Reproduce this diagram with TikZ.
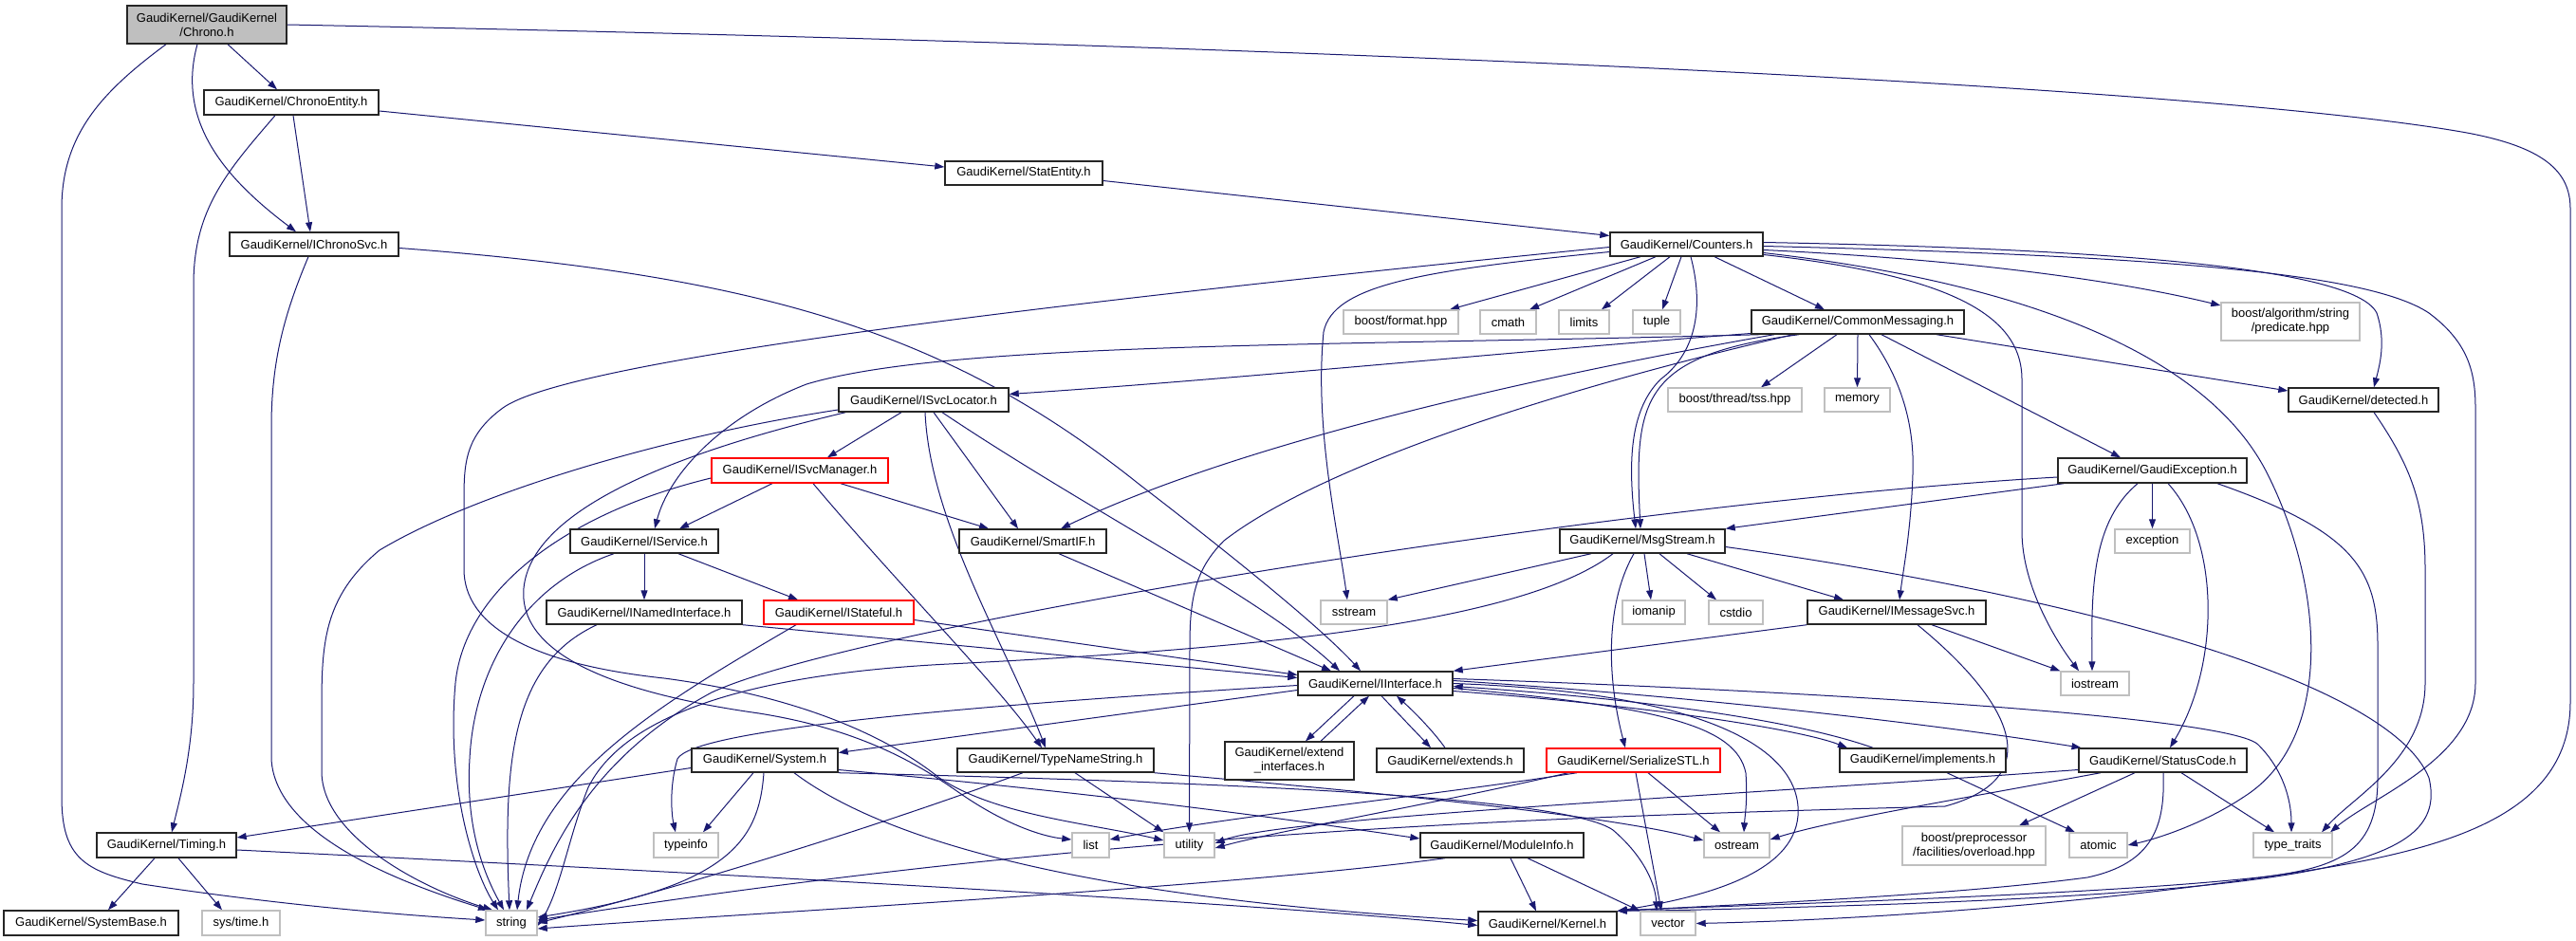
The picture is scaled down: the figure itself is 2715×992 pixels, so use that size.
\documentclass[tikz,border=0pt]{standalone}
\usepackage{fontspec}
\newfontfamily\hf{Liberation Sans}
\usetikzlibrary{arrows.meta}
\definecolor{edgeblue}{HTML}{191970}
\definecolor{gfill}{HTML}{BFBFBF}
\definecolor{gline}{HTML}{BFBFBF}
\pgfdeclarelayer{bgfill}
\pgfdeclarelayer{edges}
\pgfsetlayers{bgfill,edges,main}
\tikzset{
  hb/.style={draw=black!85, line width=1.4pt, fill=white, rectangle, inner sep=0pt, minimum height=25pt, font=\hf\fontsize{13}{15}\selectfont, text=black, align=center},
  ext/.style={hb, draw=gline},
  trunc/.style={hb, draw=red},
  rootn/.style={hb, fill=gfill},
  ed/.style={draw=edgeblue, line width=1pt, -{Triangle[length=10pt,width=7pt]}},
}
\begin{document}
\begin{tikzpicture}[x=1pt,y=-1pt]
\begin{pgfonlayer}{bgfill}\fill[white] (0,0) rectangle (2715,992);\end{pgfonlayer}
\useasboundingbox (0,0) rectangle (2715,992);
% nodes
\node[rootn, minimum width=168pt, minimum height=40pt] (chrono) at (218,26) {GaudiKernel/GaudiKernel\\/Chrono.h};
\node[hb, minimum width=184pt, minimum height=26pt] (centity) at (307,108) {GaudiKernel/ChronoEntity.h};
\node[hb, minimum width=178pt] (ichrono) at (331,257.5) {GaudiKernel/IChronoSvc.h};
\node[hb, minimum width=166pt] (statent) at (1079,182.5) {GaudiKernel/StatEntity.h};
\node[hb, minimum width=161pt] (counters) at (1777.5,257.5) {GaudiKernel/Counters.h};
\node[ext, minimum width=121pt] (bfmt) at (1476.5,339.5) {boost/format.hpp};
\node[ext, minimum width=59pt] (cmath) at (1589.5,339.5) {cmath};
\node[ext, minimum width=53pt] (limits) at (1669.5,339.5) {limits};
\node[ext, minimum width=50pt] (tuple) at (1746,339.5) {tuple};
\node[hb, minimum width=224pt] (cmsg) at (1958,339.5) {GaudiKernel/CommonMessaging.h};
\node[ext, minimum width=146pt, minimum height=40pt] (pred) at (2414,339) {boost/algorithm/string\\/predicate.hpp};
\node[hb, minimum width=179pt] (svcloc) at (973.5,421.5) {GaudiKernel/ISvcLocator.h};
\node[ext, minimum width=141pt] (tss) at (1828.5,421.5) {boost/thread/tss.hpp};
\node[ext, minimum width=69pt] (memory) at (1957.5,421.5) {memory};
\node[hb, minimum width=158pt] (detected) at (2491,421.5) {GaudiKernel/detected.h};
\node[trunc, minimum width=186pt, minimum height=26pt] (svcmgr) at (843,496) {GaudiKernel/ISvcManager.h};
\node[hb, minimum width=199pt, minimum height=26pt] (gexc) at (2268.5,496) {GaudiKernel/GaudiException.h};
\node[hb, minimum width=156pt] (iservice) at (679,570.5) {GaudiKernel/IService.h};
\node[hb, minimum width=155pt] (smartif) at (1088.5,570.5) {GaudiKernel/SmartIF.h};
\node[hb, minimum width=174pt] (msgs) at (1731,570.5) {GaudiKernel/MsgStream.h};
\node[ext, minimum width=79pt] (exception) at (2268.5,570.5) {exception};
\node[hb, minimum width=206pt] (inamed) at (679,645.5) {GaudiKernel/INamedInterface.h};
\node[trunc, minimum width=158pt] (istate) at (884,645.5) {GaudiKernel/IStateful.h};
\node[ext, minimum width=70pt] (sstream) at (1427,645.5) {sstream};
\node[ext, minimum width=66pt] (iomanip) at (1743,645.5) {iomanip};
\node[ext, minimum width=57pt] (cstdio) at (1829.5,645.5) {cstdio};
\node[hb, minimum width=188pt] (imsg) at (1999,645.5) {GaudiKernel/IMessageSvc.h};
\node[hb, minimum width=163pt] (iintf) at (1449.5,720.5) {GaudiKernel/IInterface.h};
\node[ext, minimum width=72pt] (iostream) at (2208,720.5) {iostream};
\node[hb, minimum width=136pt, minimum height=40pt] (extif) at (1359,802) {GaudiKernel/extend\\\_interfaces.h};
\node[hb, minimum width=154pt] (system) at (806,801.5) {GaudiKernel/System.h};
\node[hb, minimum width=207pt] (tns) at (1112.5,801.5) {GaudiKernel/TypeNameString.h};
\node[hb, minimum width=155pt] (extends) at (1528.5,801.5) {GaudiKernel/extends.h};
\node[trunc, minimum width=183pt] (sstl) at (1721.5,801.5) {GaudiKernel/SerializeSTL.h};
\node[hb, minimum width=175pt] (impl) at (2026.5,801.5) {GaudiKernel/implements.h};
\node[hb, minimum width=177pt] (scode) at (2279.5,801.5) {GaudiKernel/StatusCode.h};
\node[hb, minimum width=147pt, minimum height=26pt] (timing) at (175.5,891) {GaudiKernel/Timing.h};
\node[ext, minimum width=68pt, minimum height=26pt] (typeinfo) at (723,891) {typeinfo};
\node[ext, minimum width=39pt, minimum height=26pt] (list) at (1149.5,891) {list};
\node[ext, minimum width=53pt, minimum height=26pt] (utility) at (1253.5,891) {utility};
\node[hb, minimum width=172pt, minimum height=26pt] (modinfo) at (1583,891) {GaudiKernel/ModuleInfo.h};
\node[ext, minimum width=69pt, minimum height=26pt] (ostream) at (1830.5,891) {ostream};
\node[ext, minimum width=151pt, minimum height=41pt] (bpp) at (2080.5,891.5) {boost/preprocessor\\/facilities/overload.hpp};
\node[ext, minimum width=61pt, minimum height=26pt] (atomic) at (2211.5,891) {atomic};
\node[ext, minimum width=83pt, minimum height=26pt] (ttraits) at (2416.5,891) {type\_traits};
\node[hb, minimum width=184pt, minimum height=26pt] (sysbase) at (96,973) {GaudiKernel/SystemBase.h};
\node[ext, minimum width=82pt, minimum height=26pt] (systime) at (254,973) {sys/time.h};
\node[ext, minimum width=54pt, minimum height=26pt] (string) at (539,973) {string};
\node[hb, minimum width=146pt] (kernel) at (1631,973.5) {GaudiKernel/Kernel.h};
\node[ext, minimum width=58pt] (vector) at (1758,973.5) {vector};
% edges
\begin{pgfonlayer}{edges}
% Chrono.h
\draw[ed] ([xshift=22pt]chrono.south) -- ([xshift=-15pt]centity.north);
\draw[ed] ([xshift=-10pt]chrono.south) .. controls (185,130) and (240,190) .. ([xshift=-19pt]ichrono.north);
\draw[ed] ([xshift=-43pt]chrono.south) .. controls (110,95) and (65,140) .. (65,220) -- (65,840) .. controls (65,905) and (90,918) .. (150,932) .. controls (300,955) and (430,965) .. ([yshift=3pt]string.west);
\draw[ed] (chrono.east) .. controls (1500,50) and (2350,95) .. (2600,140) .. controls (2680,155) and (2709,180) .. (2709,220) -- (2709,740) .. controls (2709,850) and (2600,890) .. (2450,915) .. controls (2200,955) and (1950,970) .. (vector.east);
% ChronoEntity.h
\draw[ed] ([xshift=2pt]centity.south) -- ([xshift=-4pt]ichrono.north);
\draw[ed] ([yshift=-9pt]centity.east) -- ([yshift=6.5pt]statent.west);
\draw[ed] ([xshift=-17pt]centity.south) .. controls (240,180) and (204,220) .. (204,300) -- (204,720) .. controls (204,790) and (190,840) .. ([xshift=5.5pt]timing.north);
% IChronoSvc.h
\draw[ed] ([xshift=-6pt]ichrono.south) .. controls (300,330) and (286,380) .. (286,450) -- (286,800) .. controls (290,880) and (420,930) .. ([xshift=-25pt]string.north);
\draw[ed] ([yshift=-4pt]ichrono.east) .. controls (800,290) and (1000,350) .. (1200,510) .. controls (1330,610) and (1400,670) .. ([xshift=-15.5pt]iintf.north);
% StatEntity.h
\draw[ed] ([yshift=-8pt]statent.east) -- ([yshift=9pt]counters.west);
% Counters.h
\draw[ed] ([xshift=-48.5pt]counters.south) -- ([xshift=51.5pt]bfmt.north);
\draw[ed] ([xshift=-32.5pt]counters.south) -- ([xshift=22.5pt]cmath.north);
\draw[ed] ([xshift=-17.5pt]counters.south) -- ([xshift=18.5pt]limits.north);
\draw[ed] ([xshift=-5.5pt]counters.south) -- ([xshift=6pt]tuple.north);
\draw[ed] ([xshift=29.5pt]counters.south) -- ([xshift=-35pt]cmsg.north);
\draw[ed] ([yshift=-8pt]counters.west) .. controls (1500,285) and (1405,300) .. (1395,350) .. controls (1385,450) and (1410,560) .. ([xshift=-7pt]sstream.north);
\draw[ed] ([xshift=4.5pt]counters.south) .. controls (1795,320) and (1790,370) .. (1750,400) .. controls (1720,430) and (1715,480) .. ([xshift=-7pt]msgs.north);
\draw[ed] ([yshift=-6pt]counters.east) .. controls (2100,275) and (2250,300) .. ([yshift=17pt]pred.west);
\draw[ed] ([yshift=2pt]counters.east) .. controls (2200,262) and (2480,280) .. (2505,330) .. controls (2515,360) and (2508,385) .. ([xshift=11pt]detected.north);
\draw[ed] ([yshift=-2pt]counters.east) .. controls (2300,270) and (2500,290) .. (2560,330) .. controls (2600,360) and (2609,390) .. (2609,430) -- (2609,720) .. controls (2609,800) and (2500,840) .. ([xshift=39.5pt]ttraits.north);
\draw[ed] ([yshift=-9pt]counters.east) .. controls (2150,300) and (2330,380) .. (2390,500) .. controls (2450,620) and (2460,780) .. (2365,840) .. controls (2320,870) and (2270,885) .. (atomic.east);
\draw[ed] ([yshift=-11pt]counters.east) .. controls (2050,290) and (2131,330) .. (2131,400) -- (2131,560) .. controls (2131,620) and (2170,680) .. ([xshift=-17pt]iostream.north);
\draw[ed] ([yshift=-3pt]counters.west) .. controls (1100,320) and (600,380) .. (530,430) .. controls (489,460) and (489,490) .. (489,530) -- (489,600) .. controls (489,660) and (560,700) .. (700,715) .. controls (850,735) and (940,780) .. (990,820) .. controls (1050,860) and (1150,868) .. ([yshift=5pt]utility.west);
% CommonMessaging.h
\draw[ed] ([xshift=-22pt]cmsg.south) -- ([xshift=27.5pt]tss.north);
\draw[ed] (cmsg.south) -- (memory.north);
\draw[ed] ([xshift=12pt]cmsg.south) .. controls (2005,400) and (2018,450) .. (2016,500) .. controls (2014,560) and (2006,600) .. ([xshift=3pt]imsg.north);
\draw[ed] ([xshift=25pt]cmsg.south) -- ([xshift=-33.5pt]gexc.north);
\draw[ed] ([xshift=83pt]cmsg.south) -- ([yshift=9.5pt]detected.west);
\draw[ed] ([xshift=-62pt]cmsg.south) .. controls (1730,375) and (1722,420) .. ([xshift=-2pt]msgs.north);
\draw[ed] ([yshift=-12pt]cmsg.west) .. controls (1600,370) and (1300,400) .. ([yshift=6pt]svcloc.east);
\draw[ed] ([xshift=10pt]cmsg.south west) .. controls (1400,365) and (1000,360) .. (850,405) .. controls (760,440) and (705,500) .. ([xshift=11pt]iservice.north);
\draw[ed] ([xshift=-88pt]cmsg.south) .. controls (1600,400) and (1300,470) .. ([xshift=29.5pt]smartif.north);
\draw[ed] ([xshift=-68pt]cmsg.south) .. controls (1600,420) and (1380,500) .. (1290,570) .. controls (1260,600) and (1254,630) .. (1254,680) -- (utility.north);
% ISvcLocator.h
\draw[ed] ([xshift=-23.5pt]svcloc.south) -- ([xshift=29pt]svcmgr.north);
\draw[ed] ([xshift=1.5pt]svcloc.south) .. controls (980,550) and (1060,680) .. ([xshift=-10.5pt]tns.north);
\draw[ed] ([xshift=10.5pt]svcloc.south) -- ([xshift=-15.5pt]smartif.north);
\draw[ed] ([xshift=19.5pt]svcloc.south) .. controls (1150,540) and (1330,630) .. ([xshift=-37.5pt]iintf.north);
\draw[ed] ([yshift=-10.5pt]svcloc.west) .. controls (700,460) and (500,520) .. (400,580) .. controls (340,630) and (339,680) .. (339,750) -- (339,813) .. controls (339,880) and (440,935) .. ([xshift=-20pt]string.north);
\draw[ed] ([xshift=8pt]svcloc.south west) .. controls (700,480) and (560,540) .. (552,620) .. controls (545,700) and (680,735) .. (800,752) .. controls (900,768) and (960,800) .. (1010,835) .. controls (1060,870) and (1100,882) .. ([yshift=6pt]list.west);
% ISvcManager.h
\draw[ed] ([xshift=-29pt]svcmgr.south) -- ([xshift=37pt]iservice.north);
\draw[ed] ([xshift=43pt]svcmgr.south) -- ([xshift=-46.5pt]smartif.north);
\draw[ed] ([xshift=14pt]svcmgr.south) .. controls (950,620) and (1050,720) .. ([xshift=-14.5pt]tns.north);
\draw[ed] ([yshift=-8pt]svcmgr.west) .. controls (600,540) and (490,620) .. (480,720) .. controls (470,830) and (500,920) .. ([xshift=-14pt]string.north);
% IService.h
\draw[ed] (iservice.south) -- (inamed.north);
\draw[ed] ([xshift=36pt]iservice.south) -- ([xshift=-43pt]istate.north);
\draw[ed] ([xshift=-32pt]iservice.south) .. controls (555,615) and (500,700) .. (495,800) .. controls (490,880) and (515,930) .. ([xshift=-8pt]string.north);
% INamedInterface.h, IStateful.h, SmartIF.h
\draw[ed] (inamed.south east) -- ([yshift=6pt]iintf.west);
\draw[ed] ([xshift=-50pt]inamed.south) .. controls (540,700) and (530,800) .. ([xshift=-2pt]string.north);
\draw[ed] ([yshift=-8pt]istate.east) -- ([yshift=9pt]iintf.west);
\draw[ed] ([xshift=-45pt]istate.south) .. controls (700,740) and (560,820) .. ([xshift=6pt]string.north);
\draw[ed] ([xshift=27.5pt]smartif.south) -- ([xshift=-46.5pt]iintf.north);
% IInterface.h
\draw[ed] ([xshift=-22.5pt]iintf.south) -- ([xshift=17pt]extif.north);
\draw[ed] ([xshift=33pt]extif.north) -- ([xshift=-6.5pt]iintf.south);
\draw[ed] ([xshift=6.5pt]iintf.south) -- ([xshift=-20.5pt]extends.north);
\draw[ed] ([xshift=-5.5pt]extends.north) .. controls (1510,770) and (1490,750) .. ([xshift=22.5pt]iintf.south);
\draw[ed] ([yshift=-8pt]iintf.east) .. controls (1750,745) and (1900,770) .. ([xshift=-79.5pt]impl.north);
\draw[ed] ([xshift=-52.5pt]impl.north) .. controls (1900,762) and (1750,738) .. ([yshift=-3pt]iintf.east);
\draw[ed] ([yshift=3pt]iintf.east) .. controls (1800,735) and (2050,765) .. ([xshift=-86pt]scode.north);
\draw[ed] ([yshift=5pt]iintf.east) .. controls (1900,728) and (2350,755) .. (2380,785) .. controls (2410,815) and (2415,850) .. ([xshift=-1.5pt]ttraits.north);
\draw[ed] ([yshift=-5pt]iintf.east) .. controls (1750,745) and (1830,765) .. (1840,815) .. controls (1842,845) and (1839,860) .. ([xshift=7.5pt]ostream.north);
\draw[ed] (iintf.east) .. controls (1800,730) and (1900,790) .. (1895,860) .. controls (1890,920) and (1800,945) .. (kernel.north east);
\draw[ed] ([yshift=-7pt]iintf.west) -- ([yshift=8pt]system.east);
\draw[ed] ([yshift=-2pt]iintf.west) .. controls (1000,745) and (730,770) .. (714,800) .. controls (705,830) and (708,860) .. ([xshift=-11pt]typeinfo.north);
% MsgStream.h
\draw[ed] ([xshift=-54pt]msgs.south) -- (sstream.north east);
\draw[ed] ([xshift=-31pt]msgs.south) .. controls (1600,660) and (1300,685) .. (1000,700) .. controls (800,710) and (660,750) .. (620,830) .. controls (600,880) and (590,940) .. ([yshift=-3pt]string.east);
\draw[ed] ([xshift=-9pt]msgs.south) .. controls (1690,640) and (1695,720) .. ([xshift=-8.5pt]sstl.north);
\draw[ed] ([xshift=2pt]msgs.south) -- ([xshift=-3pt]iomanip.north);
\draw[ed] ([xshift=18pt]msgs.south) -- ([xshift=-20.5pt]cstdio.north);
\draw[ed] ([xshift=47pt]msgs.south) -- ([xshift=-56pt]imsg.north);
\draw[ed] ([yshift=-6pt]msgs.east) .. controls (2200,630) and (2520,720) .. (2560,820) .. controls (2580,905) and (2470,935) .. (2000,953) .. controls (1850,958) and (1760,960) .. (kernel.north east);
% GaudiException.h
\draw[ed] (gexc.south) -- (exception.north);
\draw[ed] ([xshift=-15.5pt]gexc.south) .. controls (2205,550) and (2204,620) .. ([xshift=-3pt]iostream.north);
\draw[ed] ([xshift=16.5pt]gexc.south) .. controls (2340,570) and (2340,700) .. ([xshift=7.5pt]scode.north);
\draw[ed] ([xshift=68.5pt]gexc.south) .. controls (2480,560) and (2506,600) .. (2506,680) -- (2506,820) .. controls (2506,895) and (2470,915) .. (2380,925) .. controls (2200,945) and (1800,955) .. (kernel.north east);
\draw[ed] ([xshift=7pt]gexc.south west) -- (msgs.north east);
\draw[ed] ([yshift=-7pt]gexc.west) .. controls (1700,530) and (900,660) .. (750,730) .. controls (620,800) and (580,900) .. ([xshift=16pt]string.north);
% StatusCode.h
\draw[ed] ([xshift=-29.5pt]scode.south) -- ([xshift=47.5pt]bpp.north);
\draw[ed] ([xshift=19.5pt]scode.south) -- ([xshift=-19.5pt]ttraits.north);
\draw[ed] ([xshift=0.5pt]scode.south) .. controls (2282,870) and (2270,910) .. (2200,925) .. controls (2050,945) and (1800,955) .. (kernel.north east);
\draw[ed] ([xshift=-65.5pt]scode.south) .. controls (2050,845) and (1930,865) .. ([yshift=6pt]ostream.east);
\draw[ed] ([yshift=-10pt]scode.west) .. controls (1800,840) and (1350,862) .. ([yshift=2pt]utility.east);
% IMessageSvc.h
\draw[ed] (imsg.south west) -- (iintf.north east);
\draw[ed] ([xshift=37pt]imsg.south) -- (iostream.north west);
\draw[ed] ([xshift=22pt]imsg.south) .. controls (2120,740) and (2160,820) .. (2050,850) .. controls (1700,860) and (1200,870) .. ([yshift=3pt]string.east);
% TypeNameString.h
\draw[ed] ([xshift=-34.5pt]tns.south) .. controls (900,880) and (700,940) .. (string.east);
\draw[ed] ([xshift=20.5pt]tns.south) -- (utility.north west);
\draw[ed] (tns.south east) .. controls (1450,835) and (1700,860) .. ([yshift=5pt]ostream.west);
% System.h
\draw[ed] ([xshift=-12pt]system.south) -- ([xshift=18pt]typeinfo.north);
\draw[ed] ([xshift=-1pt]system.south) .. controls (800,885) and (770,935) .. ([yshift=6pt]string.east);
\draw[ed] ([yshift=-8pt]system.west) -- ([yshift=8pt]timing.east);
\draw[ed] ([xshift=31pt]system.south) .. controls (950,900) and (1200,950) .. ([yshift=3pt]kernel.west);
\draw[ed] ([yshift=-10pt]system.east) .. controls (1200,840) and (1400,870) .. ([yshift=7pt]modinfo.west);
\draw[ed] (system.south east) .. controls (1300,825) and (1650,840) .. (1700,875) .. controls (1735,905) and (1745,935) .. ([xshift=-12pt]vector.north);
% Timing.h
\draw[ed] ([xshift=-12.5pt]timing.south) -- ([xshift=18pt]sysbase.north);
\draw[ed] ([xshift=12.5pt]timing.south) -- ([xshift=-20pt]systime.north);
\draw[ed] ([yshift=-5pt]timing.east) .. controls (700,918) and (1300,950) .. ([yshift=-2pt]kernel.west);
% ModuleInfo.h
\draw[ed] ([xshift=-60pt]modinfo.south) .. controls (1300,935) and (800,962) .. ([yshift=-6pt]string.east);
\draw[ed] ([xshift=9pt]modinfo.south) -- ([xshift=-12pt]kernel.north);
\draw[ed] ([xshift=27pt]modinfo.south) -- (vector.north west);
% SerializeSTL.h
\draw[ed] ([xshift=-59.5pt]sstl.south) .. controls (1500,840) and (1300,860) .. ([yshift=6pt]list.east);
\draw[ed] ([xshift=-68.5pt]sstl.south) .. controls (1500,850) and (1350,875) .. ([yshift=-3pt]utility.east);
\draw[ed] ([xshift=15.5pt]sstl.south) -- ([xshift=-17.5pt]ostream.north);
\draw[ed] ([xshift=2.5pt]sstl.south) -- ([xshift=-7pt]vector.north);
% implements.h, detected.h
\draw[ed] ([xshift=25.5pt]impl.south) -- ([xshift=-24.5pt]atomic.north);
\draw[ed] ([xshift=11pt]detected.south) .. controls (2540,490) and (2556,530) .. (2556,600) -- (2556,720) .. controls (2556,800) and (2480,840) .. ([xshift=30.5pt]ttraits.north);
\end{pgfonlayer}
\end{tikzpicture}
\end{document}
